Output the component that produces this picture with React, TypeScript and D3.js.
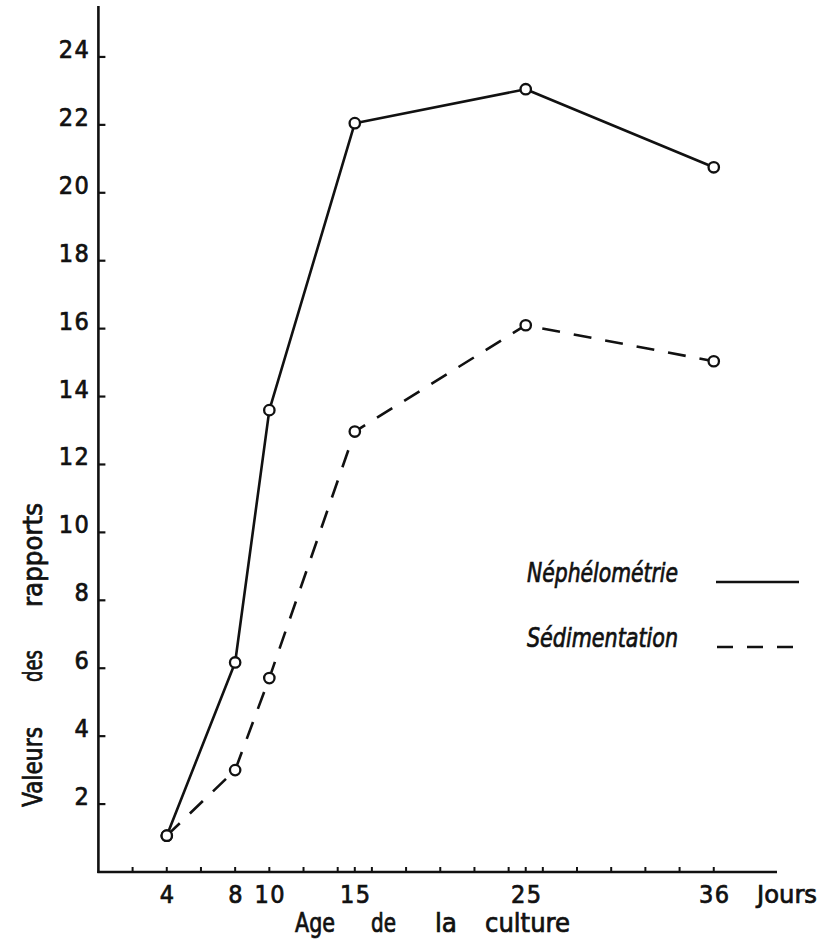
import React from "react";
import * as d3 from "d3";

const days = [4, 8, 10, 15, 25, 36];
const nephelometrie = [1.07, 6.17, 13.6, 22.05, 23.05, 20.75];
const sedimentation = [1.07, 3.0, 5.71, 12.97, 16.1, 15.04];
const xTickLabels = [4, 8, 10, 15, 25, 36];
const xMinorTicks = [2, 4, 6, 8, 10, 12, 14, 15, 16, 18, 20, 22, 24, 25, 26, 28, 30, 32, 34, 36];
const yTicks = [2, 4, 6, 8, 10, 12, 14, 16, 18, 20, 22, 24];
const xWords = ["Age", "de", "la", "culture"];
const yWords = ["Valeurs", "des", "rapports"];
const legendLabels = ["Néphélométrie", "Sédimentation"];

const FONT = "'DejaVu Sans Condensed', 'DejaVu Sans', sans-serif";

export default function App() {
  const x = d3.scaleLinear().domain([0, 39.7]).range([98.4, 777]);
  const y = d3.scaleLinear().domain([0, 25.5]).range([872, 6]);

  const line = d3
    .line<number>()
    .x((_, i) => x(days[i]))
    .y((d) => y(d));

  const ink = "#111";
  const xWordPos = [295, 371, 435, 485];
  const xWordLen = [40, 25, 22, 85];
  const yWordOff = [0, 125, 200];
  const yWordLen = [80, 32, 104];
  const textStroke = { stroke: ink, strokeWidth: 0.7 };

  return (
    <svg
      width={822}
      height={943}
      style={{ position: "absolute", left: 0, top: 0, background: "#fff" }}
      fontFamily={FONT}
    >
      <rect width={822} height={943} fill="#fff" />
      {/* axes */}
      <line x1={x(0)} x2={x(0)} y1={y(25.5)} y2={y(0) + 1} stroke={ink} strokeWidth={2.6} />
      <line x1={x(0) - 1} x2={x(39.7)} y1={y(0)} y2={y(0)} stroke={ink} strokeWidth={2.6} />
      {yTicks.map((t) => (
        <g key={"yt" + t}>
          <line x1={x(0)} x2={x(0) + 7} y1={y(t)} y2={y(t)} stroke={ink} strokeWidth={2.2} />
          <text
            x={x(0) - 8}
            y={y(t) + 1}
            textAnchor="end"
            fontSize={25}
            letterSpacing={1.5}
            fill={ink}
            {...textStroke}
          >
            {t}
          </text>
        </g>
      ))}
      {xMinorTicks.map((t) => (
        <line key={"xt" + t} x1={x(t)} x2={x(t)} y1={y(0)} y2={y(0) - 5} stroke={ink} strokeWidth={2} />
      ))}
      {xTickLabels.map((t) => (
        <text
          key={"xl" + t}
          x={x(t) + 1}
          y={903}
          textAnchor="middle"
          fontSize={25}
          letterSpacing={1.5}
          fill={ink}
          {...textStroke}
        >
          {t}
        </text>
      ))}
      <text x={757} y={903} fontSize={25} textLength={60} lengthAdjust="spacingAndGlyphs" fill={ink} {...textStroke}>
        Jours
      </text>
      {xWords.map((w, i) => (
        <text
          key={w}
          x={xWordPos[i]}
          y={932}
          fontSize={26}
          textLength={xWordLen[i]}
          lengthAdjust="spacingAndGlyphs"
          fill={ink}
          {...textStroke}
        >
          {w}
        </text>
      ))}
      <g transform="translate(42,807) rotate(-90)">
        {yWords.map((w, i) => (
          <text
            key={w}
            x={yWordOff[i]}
            y={0}
            fontSize={26}
            textLength={yWordLen[i]}
            lengthAdjust="spacingAndGlyphs"
            fill={ink}
            {...textStroke}
          >
            {w}
          </text>
        ))}
      </g>

      {/* series */}
      <path d={line(nephelometrie) || ""} fill="none" stroke={ink} strokeWidth={2.6} strokeLinejoin="round" />
      <path
        d={line(sedimentation) || ""}
        fill="none"
        stroke={ink}
        strokeWidth={2.6}
        strokeDasharray="18 14"
      />
      {[nephelometrie, sedimentation].map((s, si) =>
        s.map((v, i) => (
          <circle
            key={si + "-" + i}
            cx={x(days[i])}
            cy={y(v)}
            r={5.2}
            fill="#fff"
            stroke={ink}
            strokeWidth={2.3}
          />
        ))
      )}

      {/* legend */}
      <text
        x={527}
        y={582}
        fontSize={26}
        fontStyle="italic"
        textLength={151}
        lengthAdjust="spacingAndGlyphs"
        fill={ink}
        {...textStroke}
      >
        {legendLabels[0]}
      </text>
      <line x1={716} x2={799} y1={582} y2={582} stroke={ink} strokeWidth={2.4} />
      <text
        x={527}
        y={647}
        fontSize={26}
        fontStyle="italic"
        textLength={151}
        lengthAdjust="spacingAndGlyphs"
        fill={ink}
        {...textStroke}
      >
        {legendLabels[1]}
      </text>
      <line x1={717} x2={795} y1={647} y2={647} stroke={ink} strokeWidth={2.4} strokeDasharray="16 14" />
    </svg>
  );
}
